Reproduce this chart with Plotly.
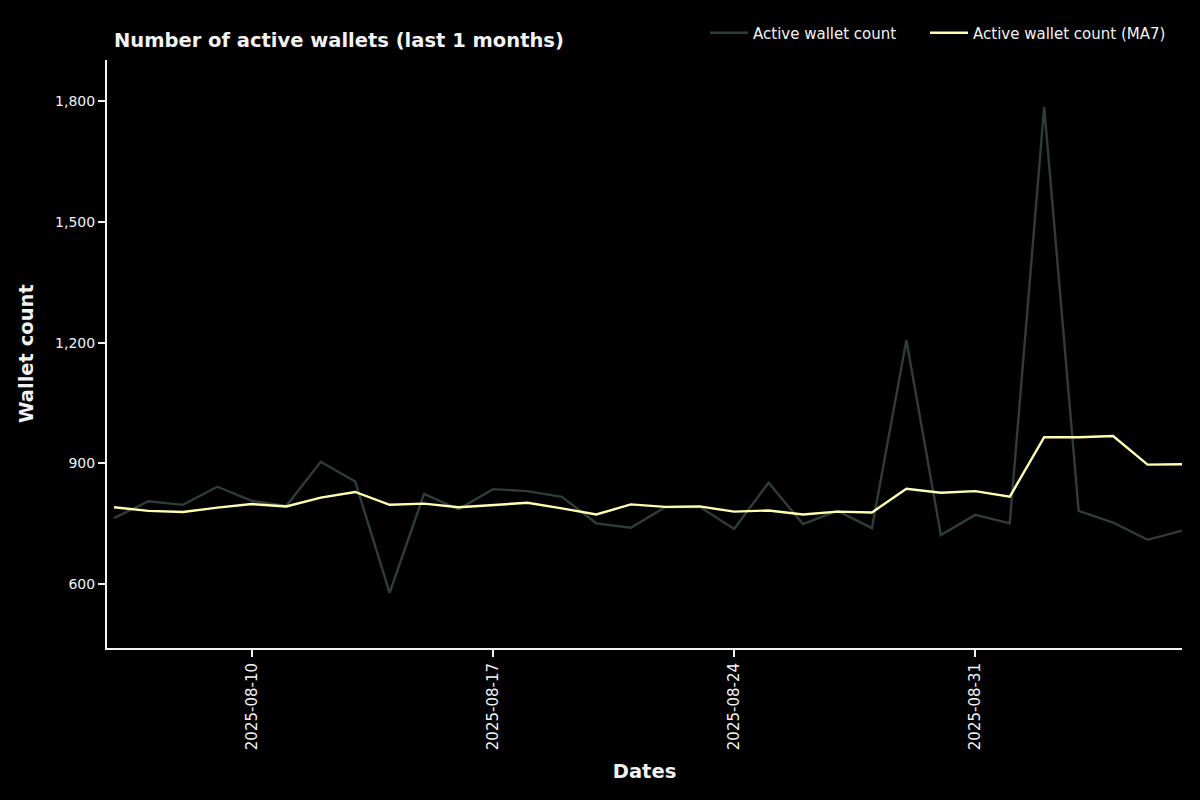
import pandas as pd
from plotly import graph_objects as go

# 일자별 활성 지갑 수 (2025-08-06 ~ 2025-09-06)
dates = pd.date_range("2025-08-06", "2025-09-06", freq="D")

active_wallets = [764, 806, 797, 842, 807, 794, 904, 855, 578, 824,
                  786, 836, 831, 817, 751, 740, 791, 792, 737, 852,
                  749, 782, 739, 1206, 722, 772, 751, 1786, 782, 753,
                  710, 733]

active_wallets_ma7 = [791, 782, 779, 790, 799, 793, 815, 829, 797, 800,
                      791, 796, 802, 788, 773, 798, 792, 793, 780, 783,
                      773, 780, 778, 837, 827, 831, 817, 965, 965, 968,
                      897, 898]

y_ticks = [600, 900, 1200, 1500, 1800]

TEXT = "#f2f2f2"
FONT = "DejaVu Sans"

fig = go.Figure()
fig.add_trace(go.Scatter(x=dates, y=active_wallets, mode="lines",
                         name="Active wallet count", legend="legend",
                         line=dict(color="#2f3d38", width=2.4)))
fig.add_trace(go.Scatter(x=dates, y=active_wallets_ma7, mode="lines",
                         name="Active wallet count (MA7)", legend="legend2",
                         line=dict(color="#ffffb0", width=2.4)))

# 범례 두 개를 따로 배치 (항목 간격 맞추기용)
legend_style = dict(orientation="h", xanchor="left", y=1.046, yanchor="middle",
                    bgcolor="rgba(0,0,0,0)", font=dict(size=15, color=TEXT),
                    itemwidth=38)

fig.update_layout(
    width=1200, height=800,
    paper_bgcolor="black", plot_bgcolor="black",
    font=dict(family=FONT, color=TEXT, size=14),
    margin=dict(l=107, r=18, t=60, b=152),
    title=dict(text="<b>Number of active wallets (last 1 months)</b>",
               x=114 / 1200, xanchor="left", y=1 - 40 / 800, yanchor="middle",
               font=dict(size=19.5, color=TEXT)),
    legend=dict(x=(705 - 107) / 1075, **legend_style),
    legend2=dict(x=(925 - 107) / 1075, **legend_style),
    showlegend=True,
    # y축 제목은 주석으로 (standoff 로는 충분히 안 붙음)
    annotations=[dict(text="<b>Wallet count</b>", textangle=-90,
                      xref="paper", yref="paper", x=(26 - 107) / 1075, y=0.5,
                      xanchor="center", yanchor="middle", showarrow=False,
                      font=dict(size=19.5, color=TEXT))],
)

fig.update_xaxes(
    range=["2025-08-05 19:07", "2025-09-06"],
    showgrid=False, zeroline=False,
    showline=True, linecolor=TEXT, linewidth=2,
    ticks="outside", ticklen=7, tickwidth=2, tickcolor=TEXT,
    tick0="2025-08-10", dtick=7 * 86400000, tickformat="%Y-%m-%d",
    tickangle=-90, tickfont=dict(size=15, color=TEXT),
    title=dict(text="<b>Dates</b>", font=dict(size=19.5, color=TEXT), standoff=15),
)
fig.update_yaxes(
    range=[441, 1903],
    showgrid=False, zeroline=False,
    showline=True, linecolor=TEXT, linewidth=2,
    ticks="outside", ticklen=7, tickwidth=2, tickcolor=TEXT,
    tickvals=y_ticks, tickformat=",d",
    tickfont=dict(size=14, color=TEXT),
)

# 브라우저 기본 여백(8px) 제거
fig.write_html("out.html", config={"displayModeBar": False},
               post_script="document.body.style.margin='0';")
